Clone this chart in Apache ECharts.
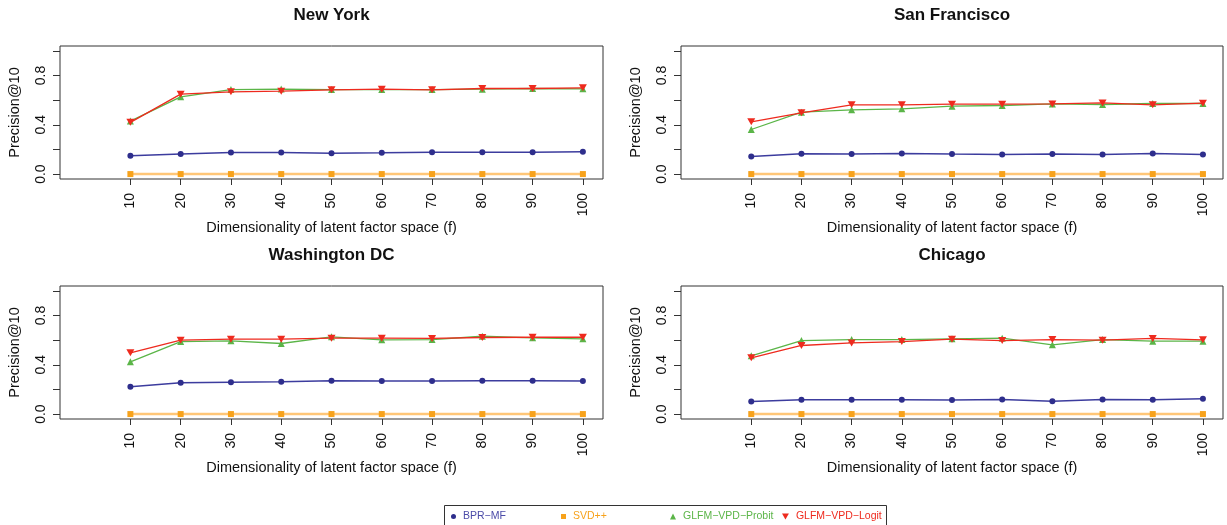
<!DOCTYPE html>
<html>
<head>
<meta charset="utf-8">
<script src="https://cdn.jsdelivr.net/npm/echarts@6/dist/echarts.min.js"></script>
<style>
html,body{margin:0;padding:0;background:#fff;}
#chart{width:1227px;height:525px;}
</style>
</head>
<body>
<div id="chart"></div>
<script>
// ---- data ----
const dims = [10, 20, 30, 40, 50, 60, 70, 80, 90, 100];
const xTicks = [10, 20, 30, 40, 50, 60, 70, 80, 90, 100];
const yTicks = [0, 0.2, 0.4, 0.6, 0.8, 1.0];
const yTickLabels = [0, 0.4, 0.8];
const seriesNames = ['BPR\u2212MF', 'SVD++', 'GLFM\u2212VPD\u2212Probit', 'GLFM\u2212VPD\u2212Logit'];
const cities = ['New York', 'San Francisco', 'Washington DC', 'Chicago'];

const nyBPR    = [0.149, 0.162, 0.176, 0.176, 0.170, 0.173, 0.178, 0.178, 0.178, 0.181];
const nySVD    = [0, 0, 0, 0, 0, 0, 0, 0, 0, 0];
const nyProbit = [0.430, 0.627, 0.686, 0.690, 0.686, 0.686, 0.686, 0.689, 0.695, 0.692];
const nyLogit  = [0.420, 0.649, 0.668, 0.673, 0.684, 0.689, 0.684, 0.695, 0.695, 0.700];

const sfBPR    = [0.143, 0.165, 0.162, 0.168, 0.162, 0.159, 0.162, 0.159, 0.168, 0.159];
const sfSVD    = [0, 0, 0, 0, 0, 0, 0, 0, 0, 0];
const sfProbit = [0.362, 0.503, 0.522, 0.530, 0.551, 0.557, 0.570, 0.565, 0.573, 0.573];
const sfLogit  = [0.424, 0.497, 0.562, 0.562, 0.568, 0.568, 0.570, 0.578, 0.562, 0.576];

const dcBPR    = [0.222, 0.254, 0.259, 0.262, 0.270, 0.268, 0.268, 0.270, 0.270, 0.268];
const dcSVD    = [0, 0, 0, 0, 0, 0, 0, 0, 0, 0];
const dcProbit = [0.424, 0.589, 0.595, 0.573, 0.627, 0.603, 0.605, 0.632, 0.619, 0.611];
const dcLogit  = [0.497, 0.600, 0.608, 0.608, 0.616, 0.616, 0.614, 0.622, 0.624, 0.624];

const chBPR    = [0.103, 0.116, 0.116, 0.116, 0.114, 0.119, 0.105, 0.119, 0.116, 0.124];
const chSVD    = [0, 0, 0, 0, 0, 0, 0, 0, 0, 0];
const chProbit = [0.473, 0.597, 0.605, 0.605, 0.611, 0.616, 0.562, 0.605, 0.592, 0.592];
const chLogit  = [0.457, 0.557, 0.578, 0.589, 0.608, 0.597, 0.605, 0.600, 0.614, 0.603];

const cityData = [
  [nyBPR, nySVD, nyProbit, nyLogit],
  [sfBPR, sfSVD, sfProbit, sfLogit],
  [dcBPR, dcSVD, dcProbit, dcLogit],
  [chBPR, chSVD, chProbit, chLogit]
];

// ---- styles ----
const FONT = '"Liberation Sans", Arial, Helvetica, sans-serif';
const invTri = 'path://M0,0 L10,0 L5,8.7 Z';
const styles = [
  {marker: '#2E2E8C', line: '#3C3C9E', lw: 1.5, symbol: 'circle', size: 6, text: '#4B4BA8'},
  {marker: '#F7A21B', line: '#FFC677', lw: 2.6, symbol: 'rect', size: 6, text: '#F7A21B'},
  {marker: '#5BB548', line: '#5BB548', lw: 1.3, symbol: 'triangle', size: 7, text: '#5BB548'},
  {marker: '#EE2A1E', line: '#EE2A1E', lw: 1.3, symbol: invTri, size: [8, 7], text: '#EE2A1E'}
];

const grids = [
  {left: 60, top: 46, width: 543, height: 133},
  {left: 681, top: 46, width: 542, height: 133},
  {left: 60, top: 286, width: 543, height: 133},
  {left: 681, top: 286, width: 542, height: 133}
];

const option = {
  backgroundColor: '#fff',
  animation: false,
  textStyle: {fontFamily: FONT},
  grid: grids.map(g => Object.assign({show: true, borderColor: '#333', borderWidth: 1, backgroundColor: 'transparent'}, g)),
  xAxis: grids.map((g, i) => ({
    type: 'value', gridIndex: i, min: -4, max: 104,
    splitLine: {show: false},
    axisLine: {show: false, onZero: false},
    axisTick: {show: true, length: 6, lineStyle: {color: '#333'}, customValues: xTicks},
    axisLabel: {show: true, rotate: 90, margin: 14, fontSize: 14, color: '#111', fontFamily: FONT,
      customValues: xTicks, formatter: v => String(v)},
    name: 'Dimensionality of latent factor space (f)',
    nameLocation: 'middle', nameGap: 36,
    nameTextStyle: {fontSize: 14.5, color: '#111', fontFamily: FONT}
  })),
  yAxis: grids.map((g, i) => ({
    type: 'value', gridIndex: i, min: -0.04, max: 1.04,
    splitLine: {show: false},
    axisLine: {show: false, onZero: false},
    axisTick: {show: true, length: 7, lineStyle: {color: '#333'}, customValues: yTicks},
    axisLabel: {show: true, rotate: 90, margin: 12, fontSize: 14, color: '#111', fontFamily: FONT,
      customValues: yTickLabels, formatter: v => Number(v).toFixed(1)},
    name: 'Precision@10',
    nameLocation: 'middle', nameGap: 38, nameRotate: 90,
    nameTextStyle: {fontSize: 14.5, color: '#111', fontFamily: FONT}
  })),
  series: [],
  legend: [],
  graphic: []
};

cityData.forEach((arrs, gi) => {
  arrs.forEach((vals, si) => {
    const st = styles[si];
    option.series.push({
      type: 'line', name: seriesNames[si],
      xAxisIndex: gi, yAxisIndex: gi,
      data: dims.map((d, k) => [d, vals[k]]),
      symbol: st.symbol, symbolSize: st.size, showSymbol: true,
      itemStyle: {color: st.marker, borderWidth: 0},
      lineStyle: {color: st.line, width: st.lw},
      z: 2 + si
    });
  });
  const g = grids[gi];
  option.graphic.push({
    type: 'text',
    x: g.left + g.width / 2, y: g.top - 31,
    style: {text: cities[gi], fontSize: 17, fontWeight: 'bold', fontFamily: FONT,
      fill: '#111', textAlign: 'center', textVerticalAlign: 'middle'}
  });
});

// legend box
option.graphic.push({
  type: 'rect', shape: {x: 444.5, y: 505.5, width: 442, height: 40},
  style: {fill: 'none', stroke: '#333', lineWidth: 1}, silent: true
});

const legendLefts = [451, 561, 670, 782];
const legendIcons = ['circle', 'rect', 'triangle', invTri];
const legendSizes = [[5, 5], [5, 5], [6, 6], [7, 6]];
seriesNames.forEach((n, i) => {
  option.legend.push({
    data: [n], left: legendLefts[i], top: 511, padding: 0,
    icon: legendIcons[i], itemWidth: legendSizes[i][0], itemHeight: legendSizes[i][1],
    selectedMode: false,
    textStyle: {color: styles[i].text, fontSize: 10.5, fontFamily: FONT, padding: [0, 0, 0, 2]}
  });
});

const chart = echarts.init(document.getElementById('chart'), null, {renderer: 'canvas'});
chart.setOption(option);
</script>
</body>
</html>
